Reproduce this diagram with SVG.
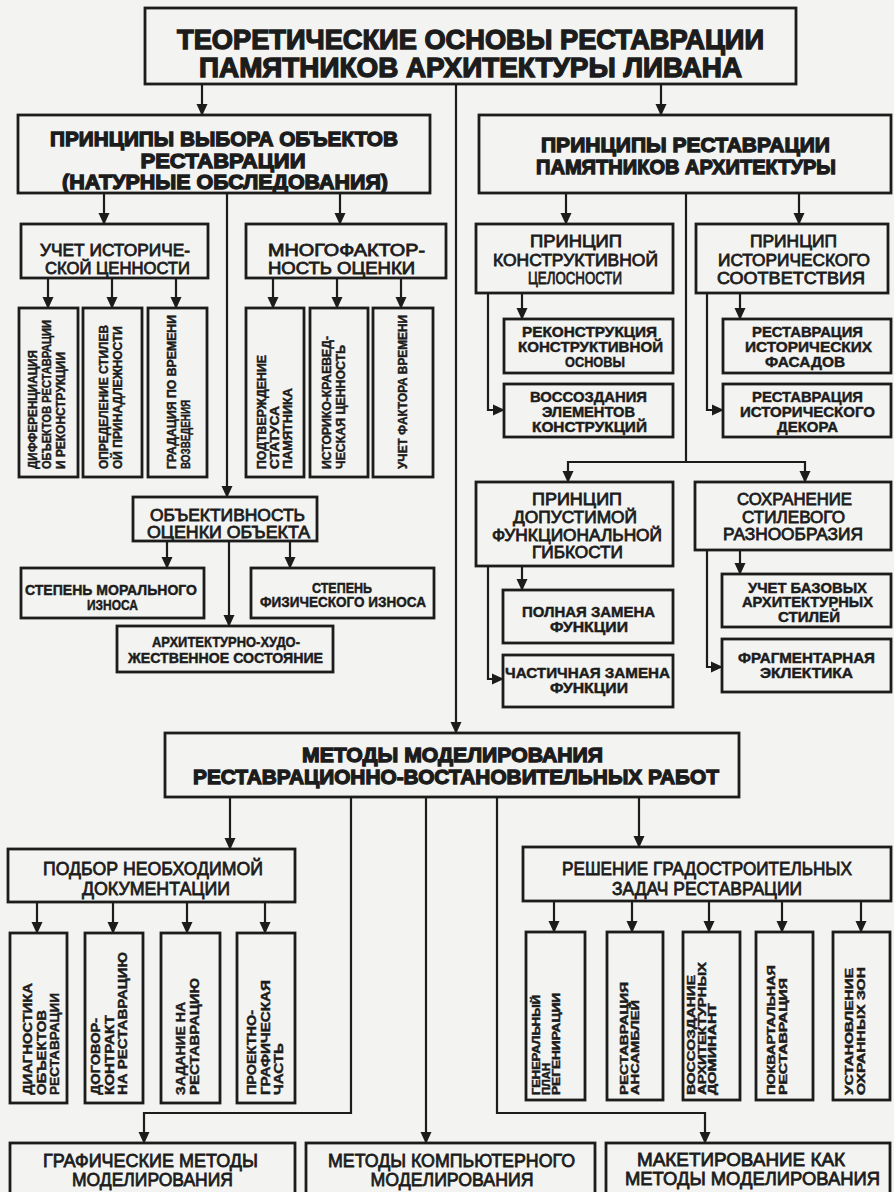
<svg xmlns="http://www.w3.org/2000/svg" width="894" height="1192" viewBox="0 0 894 1192">
<defs>
<marker id="ah" markerUnits="userSpaceOnUse" markerWidth="12" markerHeight="12" viewBox="0 0 12 11" refX="11" refY="5.5" orient="auto">
<path d="M0,0 L12,5.5 L0,11 z" fill="#1c1c1c"/>
</marker>
<style>
.box{fill:none;stroke:#1c1c1c;stroke-width:2.8}
.con{fill:none;stroke:#1c1c1c;stroke-width:2.2}
.arr{marker-end:url(#ah)}
text{font-family:"Liberation Sans",Arial,sans-serif;fill:#1c1c1c;stroke:#1c1c1c}
.hv{font-weight:bold;stroke-width:1.3}
.bd{font-weight:bold;stroke-width:0.45}
.md{font-weight:normal;stroke-width:0.8}
.c{text-anchor:middle}
.f30{font-size:27px}.f23{font-size:21px}.f20{font-size:19px}.f19{font-size:17px}.f18{font-size:16.5px}.f16{font-size:14.5px}.f15{font-size:14px}.f15v{font-size:13.5px}.f14{font-size:13px}.f12{font-size:10.5px}
</style>
</defs>
<rect x="0" y="0" width="894" height="1192" fill="#f3f3f1"/>

<g id="connectors">
<line class="con arr" x1="202" y1="84" x2="202" y2="115"/>
<line class="con arr" x1="661" y1="84" x2="661" y2="115"/>
<line class="con arr" x1="456" y1="84" x2="456" y2="733"/>
<line class="con arr" x1="104" y1="193" x2="104" y2="224"/>
<line class="con arr" x1="340" y1="193" x2="340" y2="224"/>
<line class="con arr" x1="227" y1="193" x2="227" y2="497"/>
<line class="con arr" x1="48" y1="278" x2="48" y2="308"/>
<line class="con arr" x1="112" y1="278" x2="112" y2="308"/>
<line class="con arr" x1="176" y1="278" x2="176" y2="308"/>
<line class="con arr" x1="273" y1="278" x2="273" y2="308"/>
<line class="con arr" x1="337" y1="278" x2="337" y2="308"/>
<line class="con arr" x1="401" y1="278" x2="401" y2="308"/>
<line class="con arr" x1="167" y1="541" x2="167" y2="568"/>
<line class="con arr" x1="229" y1="541" x2="229" y2="626"/>
<line class="con arr" x1="290" y1="541" x2="290" y2="568"/>
<line class="con arr" x1="566" y1="193" x2="566" y2="224"/>
<line class="con arr" x1="799" y1="193" x2="799" y2="224"/>
<polyline class="con" points="686,193 686,462"/>
<polyline class="con arr" points="686,462 568,462 568,482"/>
<polyline class="con arr" points="686,462 805,462 805,482"/>
<line class="con arr" x1="522" y1="293" x2="522" y2="319"/>
<polyline class="con arr" points="488,293 488,410 504,410"/>
<line class="con arr" x1="740" y1="293" x2="740" y2="319"/>
<polyline class="con arr" points="707,293 707,410 723,410"/>
<line class="con arr" x1="522" y1="566" x2="522" y2="590"/>
<polyline class="con arr" points="488,566 488,679 503,679"/>
<line class="con arr" x1="740" y1="550" x2="740" y2="574"/>
<polyline class="con arr" points="707,550 707,667 722,667"/>
<line class="con arr" x1="230" y1="797" x2="230" y2="849"/>
<line class="con arr" x1="639" y1="797" x2="639" y2="847"/>
<polyline class="con arr" points="351,797 351,1113 144,1113 144,1143"/>
<line class="con arr" x1="426" y1="797" x2="426" y2="1143"/>
<polyline class="con arr" points="497,797 497,1113 705,1113 705,1143"/>
<line class="con arr" x1="37" y1="902" x2="37" y2="933"/>
<line class="con arr" x1="113" y1="902" x2="113" y2="933"/>
<line class="con arr" x1="187" y1="902" x2="187" y2="933"/>
<line class="con arr" x1="265" y1="902" x2="265" y2="933"/>
<line class="con arr" x1="554" y1="901" x2="554" y2="932"/>
<line class="con arr" x1="632" y1="901" x2="632" y2="932"/>
<line class="con arr" x1="709" y1="901" x2="709" y2="932"/>
<line class="con arr" x1="782" y1="901" x2="782" y2="932"/>
<line class="con arr" x1="861" y1="901" x2="861" y2="932"/>
</g>

<g id="n-root">
<rect class="box" x="145" y="8" width="651" height="76"/>
<text class="hv c f30" x="470.5" y="49" textLength="587" lengthAdjust="spacingAndGlyphs">ТЕОРЕТИЧЕСКИЕ ОСНОВЫ РЕСТАВРАЦИИ</text>
<text class="hv c f30" x="470.5" y="77" textLength="543" lengthAdjust="spacingAndGlyphs">ПАМЯТНИКОВ АРХИТЕКТУРЫ ЛИВАНА</text>
</g>

<g id="n-vybor">
<rect class="box" x="18" y="115" width="412" height="78"/>
<text class="hv c f23" x="224" y="146" textLength="348" lengthAdjust="spacingAndGlyphs">ПРИНЦИПЫ ВЫБОРА ОБЪЕКТОВ</text>
<text class="hv c f23" x="223" y="168" textLength="165" lengthAdjust="spacingAndGlyphs">РЕСТАВРАЦИИ</text>
<text class="hv c f23" x="225" y="189" textLength="326" lengthAdjust="spacingAndGlyphs">(НАТУРНЫЕ ОБСЛЕДОВАНИЯ)</text>
</g>

<g id="n-restavr">
<rect class="box" x="479" y="115" width="412" height="78"/>
<text class="hv c f23" x="685.5" y="152" textLength="289" lengthAdjust="spacingAndGlyphs">ПРИНЦИПЫ РЕСТАВРАЦИИ</text>
<text class="hv c f23" x="686" y="174" textLength="300" lengthAdjust="spacingAndGlyphs">ПАМЯТНИКОВ АРХИТЕКТУРЫ</text>
</g>

<g id="n-uchet">
<rect class="box" x="21" y="224" width="187" height="54"/>
<text class="md c f19" x="115" y="256" textLength="150" lengthAdjust="spacingAndGlyphs">УЧЕТ ИСТОРИЧЕ-</text>
<text class="md c f19" x="117.5" y="274" textLength="145" lengthAdjust="spacingAndGlyphs">СКОЙ ЦЕННОСТИ</text>
</g>

<g id="n-mnogo">
<rect class="box" x="246" y="224" width="200" height="54"/>
<text class="md c f19" x="346.5" y="256" textLength="157" lengthAdjust="spacingAndGlyphs">МНОГОФАКТОР-</text>
<text class="md c f19" x="341.5" y="274" textLength="147" lengthAdjust="spacingAndGlyphs">НОСТЬ ОЦЕНКИ</text>
</g>

<g id="n-v1">
<rect class="box" x="19" y="308" width="59" height="169"/>
<text class="bd f14" transform="translate(37,469) rotate(-90)" textLength="119" lengthAdjust="spacingAndGlyphs">ДИФФЕРЕНЦИАЦИЯ</text>
<text class="bd f14" transform="translate(51,469) rotate(-90)" textLength="149" lengthAdjust="spacingAndGlyphs">ОБЪЕКТОВ РЕСТАВРАЦИИ</text>
<text class="bd f14" transform="translate(65,469) rotate(-90)" textLength="117" lengthAdjust="spacingAndGlyphs">И РЕКОНСТРУКЦИИ</text>
</g>
<g id="n-v2">
<rect class="box" x="83" y="308" width="59" height="169"/>
<text class="bd f14" transform="translate(108,469) rotate(-90)" textLength="144" lengthAdjust="spacingAndGlyphs">ОПРЕДЕЛЕНИЕ СТИЛЕВ</text>
<text class="bd f14" transform="translate(122,469) rotate(-90)" textLength="143" lengthAdjust="spacingAndGlyphs">ОЙ ПРИНАДЛЕЖНОСТИ</text>
</g>
<g id="n-v3">
<rect class="box" x="148" y="308" width="59" height="169"/>
<text class="bd f14" transform="translate(176,469) rotate(-90)" textLength="154" lengthAdjust="spacingAndGlyphs">ГРАДАЦИЯ ПО ВРЕМЕНИ</text>
<text class="bd f14" transform="translate(190,469) rotate(-90)" textLength="69" lengthAdjust="spacingAndGlyphs">ВОЗВЕДЕНИЯ</text>
</g>
<g id="n-v4">
<rect class="box" x="246" y="308" width="58" height="169"/>
<text class="bd f14" transform="translate(266,469) rotate(-90)" textLength="114" lengthAdjust="spacingAndGlyphs">ПОДТВЕРЖДЕНИЕ</text>
<text class="bd f14" transform="translate(279,469) rotate(-90)" textLength="63" lengthAdjust="spacingAndGlyphs">СТАТУСА</text>
<text class="bd f14" transform="translate(292,469) rotate(-90)" textLength="81" lengthAdjust="spacingAndGlyphs">ПАМЯТНИКА</text>
</g>
<g id="n-v5">
<rect class="box" x="310" y="308" width="58" height="169"/>
<text class="bd f14" transform="translate(331,469) rotate(-90)" textLength="133" lengthAdjust="spacingAndGlyphs">ИСТОРИКО-КРАЕВЕД-</text>
<text class="bd f14" transform="translate(345,469) rotate(-90)" textLength="124" lengthAdjust="spacingAndGlyphs">ЧЕСКАЯ  ЦЕННОСТЬ</text>
</g>
<g id="n-v6">
<rect class="box" x="373" y="308" width="60" height="169"/>
<text class="bd f14" transform="translate(407,469) rotate(-90)" textLength="154" lengthAdjust="spacingAndGlyphs">УЧЕТ ФАКТОРА ВРЕМЕНИ</text>
</g>

<g id="n-obj">
<rect class="box" x="133" y="497" width="184" height="44"/>
<text class="md c f19" x="227.5" y="521" textLength="155" lengthAdjust="spacingAndGlyphs">ОБЪЕКТИВНОСТЬ</text>
<text class="md c f19" x="228.5" y="538" textLength="163" lengthAdjust="spacingAndGlyphs">ОЦЕНКИ ОБЪЕКТА</text>
</g>
<g id="n-moral">
<rect class="box" x="21" y="568" width="183" height="50"/>
<text class="bd c f16" x="111" y="595" textLength="172" lengthAdjust="spacingAndGlyphs">СТЕПЕНЬ МОРАЛЬНОГО</text>
<text class="bd c f16" x="112.5" y="610" textLength="51" lengthAdjust="spacingAndGlyphs">ИЗНОСА</text>
</g>
<g id="n-fiz">
<rect class="box" x="251" y="568" width="183" height="50"/>
<text class="bd c f16" x="342" y="593" textLength="60" lengthAdjust="spacingAndGlyphs">СТЕПЕНЬ</text>
<text class="bd c f16" x="343" y="607" textLength="166" lengthAdjust="spacingAndGlyphs">ФИЗИЧЕСКОГО ИЗНОСА</text>
</g>
<g id="n-arch">
<rect class="box" x="117" y="626" width="216" height="46"/>
<text class="bd c f15" x="226" y="647" textLength="148" lengthAdjust="spacingAndGlyphs">АРХИТЕКТУРНО-ХУДО-</text>
<text class="bd c f15" x="225.5" y="663" textLength="195" lengthAdjust="spacingAndGlyphs">ЖЕСТВЕННОЕ  СОСТОЯНИЕ</text>
</g>

<g id="n-konstr">
<rect class="box" x="476" y="224" width="197" height="69"/>
<text class="md c f19" x="576" y="247" textLength="92" lengthAdjust="spacingAndGlyphs">ПРИНЦИП</text>
<text class="md c f19" x="575.5" y="266" textLength="165" lengthAdjust="spacingAndGlyphs">КОНСТРУКТИВНОЙ</text>
<text class="md c f19" x="575" y="284" textLength="94" lengthAdjust="spacingAndGlyphs">ЦЕЛОСНОСТИ</text>
</g>
<g id="n-istor">
<rect class="box" x="696" y="224" width="192" height="69"/>
<text class="md c f19" x="793.5" y="247" textLength="87" lengthAdjust="spacingAndGlyphs">ПРИНЦИП</text>
<text class="md c f19" x="794" y="266" textLength="152" lengthAdjust="spacingAndGlyphs">ИСТОРИЧЕСКОГО</text>
<text class="md c f19" x="791" y="284" textLength="148" lengthAdjust="spacingAndGlyphs">СООТВЕТСТВИЯ</text>
</g>
<g id="n-rekon">
<rect class="box" x="504" y="319" width="169" height="54"/>
<text class="bd c f16" x="589.5" y="337" textLength="135" lengthAdjust="spacingAndGlyphs">РЕКОНСТРУКЦИЯ</text>
<text class="bd c f16" x="590.5" y="352" textLength="145" lengthAdjust="spacingAndGlyphs">КОНСТРУКТИВНОЙ</text>
<text class="bd c f16" x="595" y="367" textLength="60" lengthAdjust="spacingAndGlyphs">ОСНОВЫ</text>
</g>
<g id="n-vossoz">
<rect class="box" x="504" y="384" width="169" height="53"/>
<text class="bd c f16" x="588.5" y="402" textLength="117" lengthAdjust="spacingAndGlyphs">ВОССОЗДАНИЯ</text>
<text class="bd c f16" x="588.5" y="417" textLength="93" lengthAdjust="spacingAndGlyphs">ЭЛЕМЕНТОВ</text>
<text class="bd c f16" x="589.5" y="432" textLength="115" lengthAdjust="spacingAndGlyphs">КОНСТРУКЦИЙ</text>
</g>
<g id="n-fasad">
<rect class="box" x="723" y="319" width="168" height="54"/>
<text class="bd c f16" x="807.5" y="337" textLength="111" lengthAdjust="spacingAndGlyphs">РЕСТАВРАЦИЯ</text>
<text class="bd c f16" x="808.5" y="352" textLength="127" lengthAdjust="spacingAndGlyphs">ИСТОРИЧЕСКИХ</text>
<text class="bd c f16" x="805" y="367" textLength="80" lengthAdjust="spacingAndGlyphs">ФАСАДОВ</text>
</g>
<g id="n-dekor">
<rect class="box" x="723" y="384" width="168" height="53"/>
<text class="bd c f16" x="807.5" y="402" textLength="111" lengthAdjust="spacingAndGlyphs">РЕСТАВРАЦИЯ</text>
<text class="bd c f16" x="807.5" y="417" textLength="135" lengthAdjust="spacingAndGlyphs">ИСТОРИЧЕСКОГО</text>
<text class="bd c f16" x="807.5" y="432" textLength="61" lengthAdjust="spacingAndGlyphs">ДЕКОРА</text>
</g>

<g id="n-dopust">
<rect class="box" x="476" y="482" width="197" height="84"/>
<text class="md c f18" x="577" y="505" textLength="90" lengthAdjust="spacingAndGlyphs">ПРИНЦИП</text>
<text class="md c f18" x="575" y="523" textLength="124" lengthAdjust="spacingAndGlyphs">ДОПУСТИМОЙ</text>
<text class="md c f18" x="577" y="541" textLength="170" lengthAdjust="spacingAndGlyphs">ФУНКЦИОНАЛЬНОЙ</text>
<text class="md c f18" x="577.5" y="558" textLength="91" lengthAdjust="spacingAndGlyphs">ГИБКОСТИ</text>
</g>
<g id="n-sohr">
<rect class="box" x="695" y="482" width="196" height="68"/>
<text class="md c f19" x="794.5" y="505" textLength="115" lengthAdjust="spacingAndGlyphs">СОХРАНЕНИЕ</text>
<text class="md c f19" x="793.5" y="523" textLength="103" lengthAdjust="spacingAndGlyphs">СТИЛЕВОГО</text>
<text class="md c f19" x="793" y="540" textLength="140" lengthAdjust="spacingAndGlyphs">РАЗНООБРАЗИЯ</text>
</g>
<g id="n-polnaya">
<rect class="box" x="503" y="590" width="170" height="53"/>
<text class="bd c f16" x="588.5" y="617" textLength="133" lengthAdjust="spacingAndGlyphs">ПОЛНАЯ ЗАМЕНА</text>
<text class="bd c f16" x="589" y="632" textLength="78" lengthAdjust="spacingAndGlyphs">ФУНКЦИИ</text>
</g>
<g id="n-chast">
<rect class="box" x="503" y="655" width="170" height="52"/>
<text class="bd c f16" x="587.5" y="678" textLength="165" lengthAdjust="spacingAndGlyphs">ЧАСТИЧНАЯ ЗАМЕНА</text>
<text class="bd c f16" x="589" y="693" textLength="78" lengthAdjust="spacingAndGlyphs">ФУНКЦИИ</text>
</g>
<g id="n-bazov">
<rect class="box" x="722" y="574" width="169" height="53"/>
<text class="bd c f16" x="807.5" y="593" textLength="119" lengthAdjust="spacingAndGlyphs">УЧЕТ БАЗОВЫХ</text>
<text class="bd c f16" x="807.5" y="607" textLength="131" lengthAdjust="spacingAndGlyphs">АРХИТЕКТУРНЫХ</text>
<text class="bd c f16" x="809" y="622" textLength="62" lengthAdjust="spacingAndGlyphs">СТИЛЕЙ</text>
</g>
<g id="n-fragm">
<rect class="box" x="722" y="639" width="169" height="53"/>
<text class="bd c f16" x="806.5" y="663" textLength="137" lengthAdjust="spacingAndGlyphs">ФРАГМЕНТАРНАЯ</text>
<text class="bd c f16" x="806.5" y="678" textLength="93" lengthAdjust="spacingAndGlyphs">ЭКЛЕКТИКА</text>
</g>

<g id="n-metody">
<rect class="box" x="165" y="733" width="574" height="64"/>
<text class="hv c f23" x="452.5" y="762" textLength="301" lengthAdjust="spacingAndGlyphs">МЕТОДЫ МОДЕЛИРОВАНИЯ</text>
<text class="hv c f23" x="456" y="784" textLength="526" lengthAdjust="spacingAndGlyphs">РЕСТАВРАЦИОННО-ВОСТАНОВИТЕЛЬНЫХ РАБОТ</text>
</g>

<g id="n-podbor">
<rect class="box" x="8" y="849" width="287" height="53"/>
<text class="md c f20" x="153" y="875" textLength="220" lengthAdjust="spacingAndGlyphs">ПОДБОР НЕОБХОДИМОЙ</text>
<text class="md c f20" x="156" y="895" textLength="148" lengthAdjust="spacingAndGlyphs">ДОКУМЕНТАЦИИ</text>
</g>
<g id="n-reshenie">
<rect class="box" x="523" y="847" width="368" height="54"/>
<text class="md c f20" x="707" y="875" textLength="290" lengthAdjust="spacingAndGlyphs">РЕШЕНИЕ ГРАДОСТРОИТЕЛЬНЫХ</text>
<text class="md c f20" x="707" y="895" textLength="190" lengthAdjust="spacingAndGlyphs">ЗАДАЧ РЕСТАВРАЦИИ</text>
</g>

<g id="n-d1">
<rect class="box" x="10" y="933" width="57" height="170"/>
<text class="bd f15v" transform="translate(32,1095) rotate(-90)" textLength="112" lengthAdjust="spacingAndGlyphs">ДИАГНОСТИКА</text>
<text class="bd f15v" transform="translate(45.5,1095) rotate(-90)" textLength="85" lengthAdjust="spacingAndGlyphs">ОБЪЕКТОВ</text>
<text class="bd f15v" transform="translate(59,1095) rotate(-90)" textLength="102" lengthAdjust="spacingAndGlyphs">РЕСТАВРАЦИИ</text>
</g>
<g id="n-d2">
<rect class="box" x="85" y="933" width="58" height="170"/>
<text class="bd f15v" transform="translate(100,1095) rotate(-90)" textLength="77" lengthAdjust="spacingAndGlyphs">ДОГОВОР-</text>
<text class="bd f15v" transform="translate(113.5,1095) rotate(-90)" textLength="80" lengthAdjust="spacingAndGlyphs">КОНТРАКТ</text>
<text class="bd f15v" transform="translate(127,1095) rotate(-90)" textLength="143" lengthAdjust="spacingAndGlyphs">НА РЕСТАВРАЦИЮ</text>
</g>
<g id="n-d3">
<rect class="box" x="161" y="933" width="59" height="170"/>
<text class="bd f15v" transform="translate(185,1095) rotate(-90)" textLength="93" lengthAdjust="spacingAndGlyphs">ЗАДАНИЕ  НА</text>
<text class="bd f15v" transform="translate(199,1095) rotate(-90)" textLength="117" lengthAdjust="spacingAndGlyphs">РЕСТАВРАЦИЮ</text>
</g>
<g id="n-d4">
<rect class="box" x="237" y="933" width="58" height="170"/>
<text class="bd f15v" transform="translate(256,1095) rotate(-90)" textLength="85" lengthAdjust="spacingAndGlyphs">ПРОЕКТНО-</text>
<text class="bd f15v" transform="translate(269.5,1095) rotate(-90)" textLength="115" lengthAdjust="spacingAndGlyphs">ГРАФИЧЕСКАЯ</text>
<text class="bd f15v" transform="translate(283,1095) rotate(-90)" textLength="52" lengthAdjust="spacingAndGlyphs">ЧАСТЬ</text>
</g>

<g id="n-r1">
<rect class="box" x="526" y="932" width="59" height="168"/>
<text class="bd f12" transform="translate(540,1095) rotate(-90)" textLength="100" lengthAdjust="spacingAndGlyphs">ГЕНЕРАЛЬНЫЙ</text>
<text class="bd f12" transform="translate(550,1095) rotate(-90)" textLength="32" lengthAdjust="spacingAndGlyphs">ПЛАН</text>
<text class="bd f12" transform="translate(560,1095) rotate(-90)" textLength="102" lengthAdjust="spacingAndGlyphs">РЕГЕНИРАЦИИ</text>
</g>
<g id="n-r2">
<rect class="box" x="607" y="932" width="56" height="168"/>
<text class="bd f12" transform="translate(628,1095) rotate(-90)" textLength="113" lengthAdjust="spacingAndGlyphs">РЕСТАВРАЦИЯ</text>
<text class="bd f12" transform="translate(639,1095) rotate(-90)" textLength="95" lengthAdjust="spacingAndGlyphs">АНСАМБЛЕЙ</text>
</g>
<g id="n-r3">
<rect class="box" x="683" y="932" width="57" height="168"/>
<text class="bd f12" transform="translate(695,1095) rotate(-90)" textLength="120" lengthAdjust="spacingAndGlyphs">ВОССОЗДАНИЕ</text>
<text class="bd f12" transform="translate(705.5,1095) rotate(-90)" textLength="133" lengthAdjust="spacingAndGlyphs">АРХИТЕКТУРНЫХ</text>
<text class="bd f12" transform="translate(716,1095) rotate(-90)" textLength="92" lengthAdjust="spacingAndGlyphs">ДОМИНАНТ</text>
</g>
<g id="n-r4">
<rect class="box" x="756" y="932" width="57" height="168"/>
<text class="bd f12" transform="translate(775,1095) rotate(-90)" textLength="130" lengthAdjust="spacingAndGlyphs">ПОКВАРТАЛЬНАЯ</text>
<text class="bd f12" transform="translate(787,1095) rotate(-90)" textLength="117" lengthAdjust="spacingAndGlyphs">РЕСТАВРАЦИЯ</text>
</g>
<g id="n-r5">
<rect class="box" x="833" y="932" width="57" height="168"/>
<text class="bd f12" transform="translate(853,1095) rotate(-90)" textLength="127" lengthAdjust="spacingAndGlyphs">УСТАНОВЛЕНИЕ</text>
<text class="bd f12" transform="translate(865,1095) rotate(-90)" textLength="128" lengthAdjust="spacingAndGlyphs">ОХРАННЫХ ЗОН</text>
</g>

<g id="n-graf">
<rect class="box" x="10" y="1143" width="285" height="60"/>
<text class="md c f20" x="150.5" y="1167" textLength="215" lengthAdjust="spacingAndGlyphs">ГРАФИЧЕСКИЕ МЕТОДЫ</text>
<text class="md c f20" x="152.5" y="1186" textLength="161" lengthAdjust="spacingAndGlyphs">МОДЕЛИРОВАНИЯ</text>
</g>
<g id="n-komp">
<rect class="box" x="306" y="1143" width="289" height="60"/>
<text class="md c f20" x="451.5" y="1167" textLength="247" lengthAdjust="spacingAndGlyphs">МЕТОДЫ КОМПЬЮТЕРНОГО</text>
<text class="md c f20" x="452" y="1186" textLength="163" lengthAdjust="spacingAndGlyphs">МОДЕЛИРОВАНИЯ</text>
</g>
<g id="n-maket">
<rect class="box" x="606" y="1143" width="284" height="60"/>
<text class="md c f20" x="741" y="1166" textLength="208" lengthAdjust="spacingAndGlyphs">МАКЕТИРОВАНИЕ КАК</text>
<text class="md c f20" x="752.5" y="1185" textLength="255" lengthAdjust="spacingAndGlyphs">МЕТОДЫ МОДЕЛИРОВАНИЯ</text>
</g>
</svg>
